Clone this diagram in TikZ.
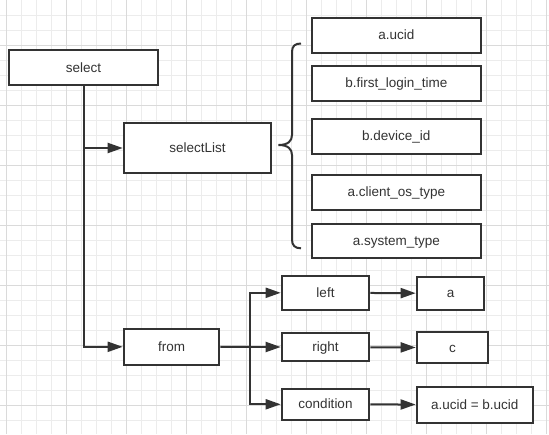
\documentclass[tikz,border=0pt]{standalone}
\usepackage{fontspec}
\setmainfont{Liberation Sans}
\usetikzlibrary{arrows.meta}
\definecolor{gridlight}{HTML}{ECECEC}
\definecolor{griddark}{HTML}{DADADA}
\definecolor{ink}{HTML}{333333}

\begin{document}
\begin{tikzpicture}[x=1pt, y=-1pt,
	box/.style={draw=ink, line width=2pt, fill=white, text=ink, inner sep=0pt,
		minimum height=35pt, text height=11pt, text depth=2pt,
		font=\fontsize{13.5}{15}\selectfont},
	wire/.style={draw=ink, line width=2pt},
	link/.style={wire, -{Triangle[length=15pt,width=10pt]}}]
	\useasboundingbox (0,0) rectangle (549,434);
	% grid paper
	\foreach \i in {0,...,36} \draw[gridlight, line width=1pt] (6.7+15*\i,0) -- (6.7+15*\i,434);
	\foreach \j in {1,...,28} \draw[gridlight, line width=1pt] (0,15*\j) -- (549,15*\j);
	\foreach \i in {0,...,9} \draw[griddark, line width=1pt] (6.7+60*\i,0) -- (6.7+60*\i,434);
	\foreach \j in {0,...,6} \draw[griddark, line width=1pt] (0,45+60*\j) -- (549,45+60*\j);

	\node[box, minimum width=149pt] (select) at (83.5,67.5) {select};
	\node[box, minimum width=147.6pt, minimum height=50pt] (selectList) at (197.5,148) {selectList};

	\node[box, minimum width=169.3pt] (ucid) at (396.3,35.2) {a.ucid};
	\node[box, minimum width=169.3pt] (logintime) at (396.3,83.3) {b.first\_login\_time};
	\node[box, minimum width=169.3pt] (deviceid) at (396.3,136.3) {b.device\_id};
	\node[box, minimum width=169.3pt] (ostype) at (396.3,192.3) {a.client\_os\_type};
	\node[box, minimum width=169.3pt, minimum height=34.3pt] (systype) at (396.3,240.8) {a.system\_type};

	\node[box, minimum width=95.6pt, minimum height=36.3pt] (from) at (171.5,346.8) {from};
	\node[box, minimum width=87.6pt, minimum height=34.3pt] (lefttab) at (325.5,292.8) {left};
	\node[box, minimum width=87.6pt, minimum height=28.6pt] (righttab) at (325.5,347) {right};
	\node[box, minimum width=87.6pt, minimum height=31.3pt] (condition) at (325.5,404.3) {condition};
	\node[box, minimum width=67.6pt, minimum height=33.3pt] (tblA) at (450.5,293.3) {a};
	\node[box, minimum width=71.6pt, minimum height=31.3pt] (tblC) at (452.5,347.7) {c};
	\node[box, minimum width=116.3pt, minimum height=36pt] (onCond) at (474.8,404.7) {a.ucid = b.ucid};

	% brace over the select list
	\draw[wire] (301,43.5) .. controls (295,43.5) and (292,46) .. (292,52) -- (292,135)
		.. controls (292,141) and (288,145) .. (278.5,145)
		.. controls (288,145) and (292,149) .. (292,155) -- (292,239.5)
		.. controls (292,245.5) and (295,248.3) .. (301,248.3);

	\draw[link] (select.south) |- (from.west);
	\draw[link] (select.south |- selectList.west) -- (selectList.west);

	\coordinate (bus) at (250,347);
	\draw[wire] (from.east) -- (bus);
	\draw[link] (bus) |- (lefttab.west);
	\draw[link] (bus) -- (righttab.west);
	\draw[link] (bus) |- (condition.west);

	\draw[link] (lefttab) -- (tblA);
	\draw[link] (righttab) -- (tblC);
	\draw[link] (condition) -- (onCond);
\end{tikzpicture}
\end{document}
